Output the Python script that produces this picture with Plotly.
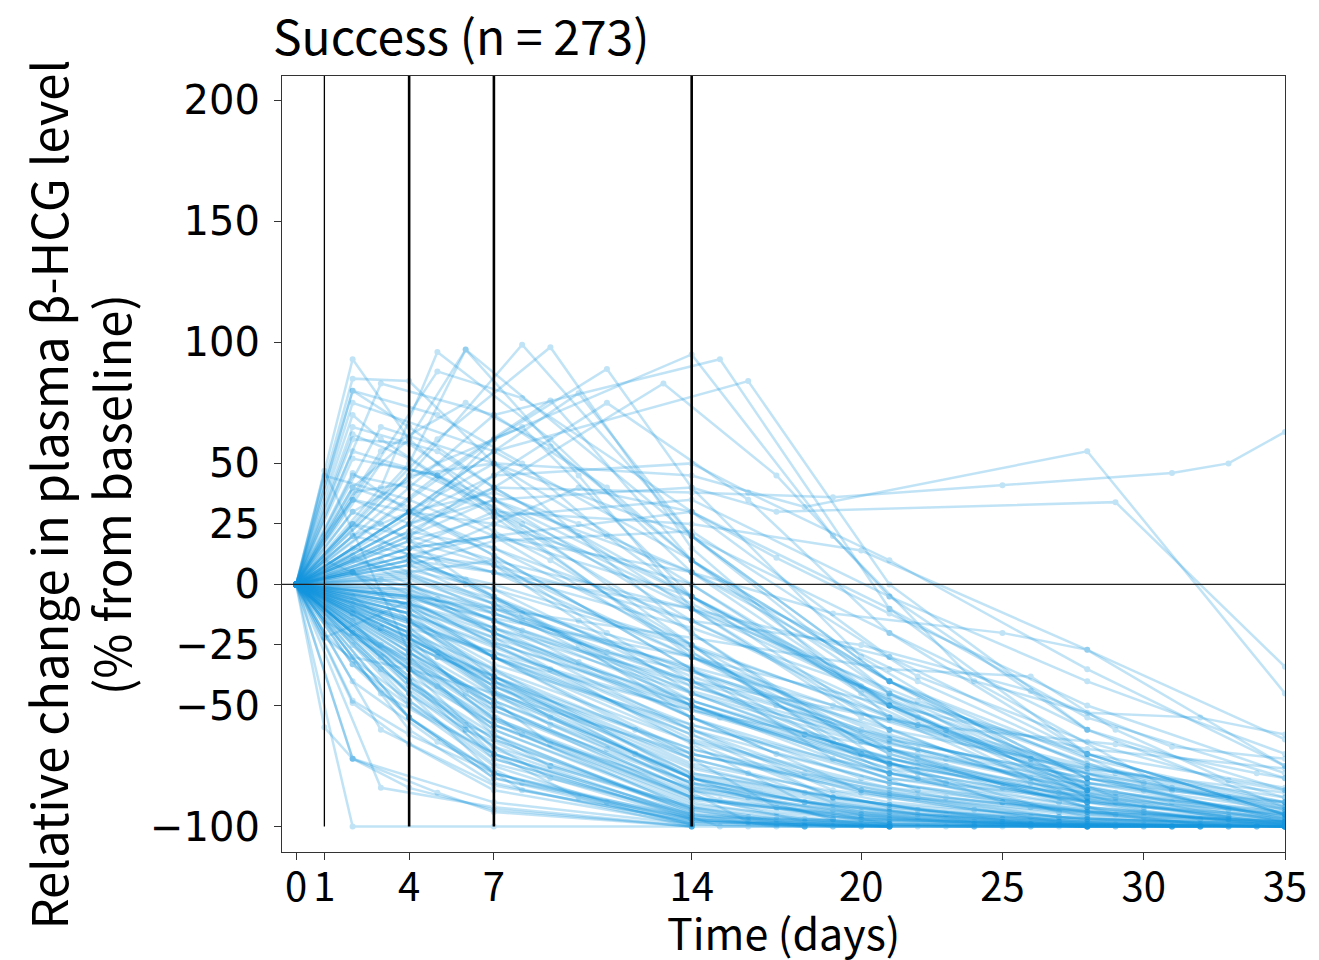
import plotly.graph_objects as go

# ---------------- data ----------------
title_text = "Success (n = 273)"
x_ticks = [0, 1, 4, 7, 14, 20, 25, 30, 35]
y_ticks = [200, 150, 100, 50, 25, 0, -25, -50, -100]
y_tick_labels = ["200", "150", "100", "50", "25", "0", "\u221225", "\u221250", "\u2212100"]
ref_days = [1, 4, 7, 14]

# each patient: days of measurement and relative change (%) from baseline
patient_days = [
    # fast decliners
    [0, 4, 7, 14, 21], [0, 4, 7, 14], [0, 1, 4, 7, 14, 21], [0, 4, 7, 10, 14],
    [0, 2, 4, 7, 14, 28], [0, 1, 2, 4, 7, 14], [0, 2, 7, 14], [0, 3, 6, 9, 14],
    [0, 4, 7, 14, 21, 28], [0, 2, 5, 8, 14, 20], [0, 4, 7, 11, 14, 18], [0, 1, 4, 7, 14],
    [0, 3, 7, 14, 21], [0, 2, 4, 7, 14], [0, 2, 5, 7, 14], [0, 3, 7, 14],
    [0, 4, 7, 9, 14, 21], [0, 5, 7, 14, 21], [0, 4, 6, 8, 14], [0, 4, 7, 14, 18, 25],
    [0, 1, 4, 7, 14, 21], [0, 2, 4, 7, 14], [0, 4, 7, 14, 21, 28], [0, 3, 4, 7, 14],
    [0, 4, 8, 14, 21], [0, 2, 7, 14, 21], [0, 4, 7, 12, 14, 21], [0, 4, 7, 14, 21, 28, 35],
    [0, 1, 4, 7, 14, 21], [0, 4, 7, 14, 17, 21],
    # slow decliners
    [0, 4, 7, 14, 21, 28, 35], [0, 4, 7, 14, 21, 28, 35], [0, 3, 7, 14, 20, 28, 35],
    [0, 4, 7, 10, 14, 21, 28], [0, 4, 7, 14, 18, 25, 32], [0, 2, 4, 7, 14, 21, 35],
    [0, 4, 7, 14, 21, 28, 35], [0, 4, 7, 9, 14, 21, 28, 35], [0, 1, 4, 7, 14, 22, 29, 35],
    [0, 4, 7, 14, 21, 28, 35], [0, 4, 7, 14, 21, 28, 35], [0, 5, 8, 14, 21, 28, 35],
    [0, 4, 7, 14, 19, 26, 33], [0, 2, 4, 7, 14, 21, 28, 35], [0, 4, 7, 14, 21, 28, 35],
    [0, 4, 7, 11, 14, 21, 28, 35], [0, 3, 7, 14, 21, 28, 35], [0, 4, 7, 14, 20, 27, 35],
    [0, 4, 7, 14, 21, 26, 31, 35], [0, 4, 7, 14, 21, 28, 35], [0, 4, 7, 14, 23, 28, 35],
    [0, 1, 4, 7, 14, 21, 28, 33], [0, 4, 7, 15, 21, 28, 35], [0, 4, 7, 14, 21, 28, 35],
    [0, 2, 4, 7, 14, 22, 28, 35],
    # early rise, then decline
    [0, 2, 4, 7, 14, 21, 28, 35], [0, 3, 5, 9, 14, 21, 28], [0, 4, 6, 10, 14, 21, 28],
    [0, 4, 8, 14, 21, 28, 35], [0, 5, 9, 14, 21, 28], [0, 3, 7, 11, 14, 21, 28, 35],
    [0, 2, 4, 7, 14, 21], [0, 5, 8, 14, 21, 28, 35], [0, 4, 7, 10, 14, 21, 28],
    [0, 4, 7, 11, 14, 20, 28], [0, 4, 7, 11, 16, 21, 28, 35], [0, 4, 7, 13, 17, 21, 28, 35],
    [0, 4, 7, 14, 19, 24, 31], [0, 4, 7, 15, 21, 28, 35], [0, 4, 7, 16, 21, 28],
    [0, 2, 4, 7, 14, 21, 28], [0, 2, 7, 14, 21, 28, 35], [0, 2, 4, 7, 14, 21, 28, 35],
    [0, 2, 5, 8, 14, 21, 28], [0, 2, 4, 7, 14, 21], [0, 4, 7, 14, 21, 28, 35],
    [0, 3, 6, 9, 14, 21, 28], [0, 4, 7, 14, 18, 28, 35], [0, 4, 7, 14, 19, 25, 31, 33, 35],
    [0, 4, 7, 14, 17, 29, 35], [0, 4, 7, 14, 20, 28, 35], [0, 4, 7, 14, 21, 28, 35],
    [0, 4, 7, 10, 14, 21, 28, 35], [0, 4, 7, 14, 16, 21, 28, 35], [0, 4, 7, 14, 17, 21, 28, 35],
    [0, 4, 7, 14, 22, 28, 35], [0, 4, 7, 14, 21, 28, 35], [0, 4, 7, 14, 21, 28, 35],
    [0, 3, 7, 14, 21, 28], [0, 2, 4, 6, 14, 21, 28], [0, 5, 9, 14, 21, 28],
    [0, 2, 5, 8, 14, 21], [0, 4, 7, 14, 21, 28, 35], [0, 2, 4, 7, 14, 21, 28, 35],
    [0, 1, 4, 7, 14, 21, 28],
    # long follow-up reaching -100
    [0, 4, 7, 14, 17, 20, 24, 28, 31, 35], [0, 4, 7, 14, 16, 19, 22, 25, 29, 33],
    [0, 4, 7, 14, 18, 21, 23, 27, 30, 35], [0, 3, 7, 14, 15, 20, 26, 32],
    [0, 4, 7, 14, 21, 24, 28, 35], [0, 4, 7, 14, 17, 21, 28, 35], [0, 2, 4, 7, 14, 21, 28, 35],
    [0, 4, 7, 14, 20, 25, 30, 35], [0, 4, 7, 9, 14, 16, 21, 28], [0, 4, 7, 14, 19, 21, 28, 35],
    [0, 1, 4, 7, 14, 22, 28, 35], [0, 4, 7, 14, 21, 28, 35], [0, 4, 7, 14, 18, 23, 28, 35],
    [0, 4, 7, 14, 21, 27, 35], [0, 4, 7, 14, 21, 28, 35], [0, 2, 4, 7, 14, 21, 28],
    [0, 4, 7, 14, 16, 18, 21, 28, 35], [0, 4, 7, 14, 21, 28, 33, 35], [0, 3, 7, 14, 21, 28, 35],
    [0, 4, 7, 14, 20, 28, 35], [0, 4, 7, 12, 14, 21, 28, 35], [0, 4, 7, 14, 21, 28, 35],
    [0, 2, 5, 7, 14, 21, 28, 35], [0, 4, 7, 14, 21, 28, 35], [0, 4, 7, 14, 21, 28, 35],
    # late, slowly declining
    [0, 4, 7, 14, 21, 28, 32, 35], [0, 4, 7, 14, 21, 26, 29, 33, 35], [0, 4, 7, 14, 20, 26, 31, 35],
    [0, 4, 7, 14, 19, 25, 28, 35], [0, 4, 7, 14, 22, 29, 34, 35], [0, 4, 7, 14, 21, 28, 35],
    # frequently sampled early
    [0, 2, 3, 4, 5, 6, 7, 14, 22], [0, 2, 4, 6, 8, 10, 14, 20, 27], [0, 2, 3, 5, 7, 9, 11, 14, 19],
    [0, 1, 2, 4, 7, 10, 14, 23], [0, 2, 4, 7, 9, 14, 17, 22, 29], [0, 2, 5, 7, 10, 14, 20, 26, 33],
    [0, 2, 4, 7, 14, 16, 19, 24, 31], [0, 3, 4, 7, 8, 14, 22], [0, 2, 4, 7, 11, 14, 18, 22, 30],
    [0, 2, 3, 7, 14, 20, 27], [0, 2, 4, 7, 14, 22, 29, 35], [0, 2, 4, 6, 9, 14, 18],
    [0, 2, 4, 7, 14, 17], [0, 1, 2, 4, 7, 14, 19, 26], [0, 2, 4, 7, 14, 20, 26, 33],
    [0, 2, 5, 8, 11, 14, 23], [0, 2, 4, 7, 10, 14, 22, 30], [0, 3, 7, 14, 19, 25, 31],
    [0, 2, 4, 7, 14, 18, 24], [0, 2, 4, 7, 14, 19], [0, 4, 7, 14, 16, 23, 30],
    [0, 4, 7, 14, 17, 24, 32], [0, 4, 7, 14, 15, 22, 29], [0, 4, 7, 14, 18],
    [0, 4, 7, 14, 16, 20], [0, 3, 7, 14, 19, 26], [0, 4, 7, 14, 20, 27, 34],
    [0, 4, 7, 14, 22, 29, 35], [0, 2, 4, 7, 14, 19, 25, 32], [0, 4, 7, 14, 18, 21, 25, 28, 35],
    [0, 4, 7, 9, 14, 20, 26, 33], [0, 4, 7, 14, 18, 24, 31], [0, 2, 4, 7, 14, 20, 27, 34],
    [0, 4, 7, 14, 22, 30, 35], [0, 4, 7, 14, 20, 26, 33], [0, 2, 4, 7, 14, 19, 25, 32],
    [0, 3, 5, 7, 14, 22, 29], [0, 4, 7, 14, 23, 30, 35], [0, 4, 7, 14, 19, 26, 32],
    [0, 2, 4, 7, 14, 20, 27, 34], [0, 4, 7, 14, 17, 21, 28, 35], [0, 4, 7, 14, 22, 29, 35],
    [0, 2, 4, 7, 14, 20, 27], [0, 2, 4, 7, 14, 22, 30, 35], [0, 4, 7, 14, 18, 25, 31],
    [0, 5, 7, 14, 20, 26, 32], [0, 4, 6, 14, 19, 27], [0, 4, 7, 14, 23, 31, 35],
    [0, 2, 4, 7, 14, 19, 26, 33], [0, 4, 7, 14, 17, 24, 30],
]

patient_values = [
    # fast decliners
    [0, -45, -78, -98, -100], [0, -30, -62, -95], [0, -20, -55, -80, -97, -100], [0, -38, -70, -88, -99],
    [0, -15, -40, -72, -96, -100], [0, -59, -72, -84, -93, -100], [0, -100, -100, -100], [0, -35, -60, -80, -97],
    [0, -25, -52, -85, -97, -100], [0, -40, -65, -82, -96, -100], [0, -50, -75, -90, -97, -100], [0, -10, -35, -68, -96],
    [0, -60, -83, -98, -100], [0, -49, -66, -85, -99], [0, -72, -86, -94, -100], [0, -84, -92, -100],
    [0, -28, -48, -66, -88, -99], [0, -42, -60, -91, -100], [0, -22, -45, -62, -93], [0, -33, -58, -90, -97, -100],
    [0, -22, -48, -74, -95, -100], [0, -33, -55, -80, -99], [0, -18, -44, -80, -94, -100], [0, -30, -42, -64, -94],
    [0, -55, -85, -98, -100], [0, -72, -90, -99, -100], [0, -12, -38, -70, -83, -99], [0, -8, -30, -72, -92, -99, -100],
    [0, 47, -28, -56, -88, -98], [0, -40, -67, -92, -97, -100],
    # slow decliners
    [0, -5, -15, -42, -68, -85, -95], [0, -10, -22, -48, -72, -88, -97], [0, 2, -10, -35, -60, -82, -93],
    [0, -8, -20, -32, -50, -78, -96], [0, -2, -18, -45, -62, -84, -97], [0, 5, -4, -20, -55, -80, -98],
    [0, 8, 0, -25, -55, -75, -90], [0, -12, -26, -35, -58, -80, -92, -99], [0, -3, -14, -30, -52, -70, -86, -94],
    [0, 12, -5, -38, -65, -86, -98], [0, -15, -30, -60, -82, -93, -99], [0, -6, -19, -44, -66, -82, -90],
    [0, 3, -8, -30, -50, -74, -88], [0, 10, 4, -12, -40, -64, -80, -92], [0, -20, -35, -65, -85, -95, -100],
    [0, -4, -12, -28, -36, -60, -76, -88], [0, 15, 5, -18, -46, -70, -84], [0, -25, -40, -68, -86, -96, -100],
    [0, 0, -12, -34, -56, -72, -84, -90], [0, -18, -28, -52, -76, -90, -97], [0, 6, -2, -26, -62, -76, -86],
    [0, -22, -7, -24, -50, -74, -89, -96], [0, -9, -24, -55, -74, -88, -95], [0, -14, -33, -58, -78, -92, -98],
    [0, -30, -35, -45, -70, -88, -96, -100],
    # early rise, then decline
    [0, 93, 60, 30, -30, -70, -92, -100], [0, 40, 96, 60, 5, -50, -85], [0, 50, 97, 45, -10, -60, -90],
    [0, 45, 99, 20, -40, -80, -98], [0, 60, 98, 15, -55, -90], [0, 83, 70, 40, 10, -45, -80, -97],
    [0, 85, 84, 50, -20, -75], [0, 88, 77, 30, -30, -70, -95], [0, 30, 55, 79, 20, -45, -88],
    [0, 25, 60, 89, 40, -30, -85], [0, 20, 45, 75, 35, -20, -70, -95], [0, 22, 40, 83, 45, -5, -60, -92],
    [0, 35, 60, 95, 20, -40, -85], [0, 40, 70, 93, -10, -70, -95], [0, 30, 55, 84, 0, -60],
    [0, 80, 65, 40, -5, -50, -82], [0, 75, 55, 10, -40, -75, -93], [0, 60, 58, 35, -15, -55, -82, -96],
    [0, 52, 45, 25, -25, -68, -90], [0, 46, 30, 12, -35, -78], [0, 45, 50, 20, -20, -60, -85],
    [0, 55, 75, 57, 10, -40, -80], [0, 30, 50, 45, 32, 55, -45], [0, 25, 40, 38, 36, 41, 46, 50, 63],
    [0, 20, 35, 40, 30, 34, -34], [0, 15, 30, 25, 14, -27, -75], [0, 18, 28, 35, -5, -40, -70],
    [0, 10, 25, 40, 30, -10, -55, -80], [0, 28, 45, 50, 38, 10, -35, -75], [0, 12, 20, 30, 11, -12, -50, -78],
    [0, 8, 18, 22, -38, -65, -88], [0, 25, 35, 5, -40, -72, -90], [0, 15, 20, -5, -45, -74, -92],
    [0, 65, 50, 0, -50, -85], [0, 40, 60, 97, 20, -40, -85], [0, 45, 76, 10, -50, -88],
    [0, 30, 50, 65, -5, -60], [0, 5, 10, -10, -48, -78, -93], [0, 20, 15, 5, -30, -62, -84, -96],
    [0, 45, 35, 20, -28, -70, -92],
    # long follow-up reaching -100
    [0, -30, -55, -88, -94, -97, -99, -100, -100, -100], [0, -20, -45, -80, -88, -93, -96, -98, -100, -100],
    [0, -15, -40, -75, -86, -91, -95, -98, -99, -100], [0, -25, -50, -85, -89, -96, -99, -100],
    [0, -10, -30, -70, -88, -93, -97, -99], [0, -35, -60, -92, -96, -99, -100, -100], [0, -8, -20, -40, -78, -92, -98, -100],
    [0, -5, -18, -55, -80, -90, -96, -98], [0, -40, -62, -75, -93, -96, -99, -100], [0, -22, -42, -76, -88, -91, -97, -99],
    [0, -15, -35, -58, -84, -95, -98, -100], [0, -28, -48, -82, -95, -99, -100], [0, -12, -30, -62, -78, -88, -94, -98],
    [0, 0, -15, -48, -74, -86, -95], [0, -3, -20, -50, -78, -90, -96], [0, -20, -32, -52, -82, -96, -100],
    [0, -45, -70, -95, -97, -98, -99, -100, -100], [0, -6, -25, -64, -84, -93, -97, -98], [0, -18, -38, -74, -90, -97, -99],
    [0, 2, -10, -40, -70, -86, -94], [0, -16, -36, -60, -70, -87, -95, -99], [0, -26, -46, -79, -93, -98, -100],
    [0, -12, -30, -38, -68, -86, -94, -98], [0, -38, -58, -89, -97, -100, -100], [0, 4, -6, -36, -64, -80, -91],
    # late, slowly declining
    [0, 10, 5, -10, -30, -53, -55, -62], [0, -5, -10, -22, -35, -38, -60, -81, -85], [0, 12, 8, -15, -25, -44, -67, -72],
    [0, 15, 20, 5, -12, -20, -27, -64], [0, -8, -18, -40, -58, -66, -78, -80], [0, -6, -14, -30, -50, -68, -76],
    # frequently sampled early
    [0, 30, 25, 18, 10, 2, -5, -50, -85], [0, 15, 10, 0, -12, -25, -55, -85, -98], [0, -10, -18, -30, -45, -58, -68, -82, -97],
    [0, 20, 35, 25, 8, -15, -45, -82], [0, 45, 40, 22, 10, -25, -50, -72, -95], [0, 65, 55, 40, 20, -10, -55, -82, -97],
    [0, -5, -22, -42, -72, -78, -90, -98, -100], [0, 10, 5, -8, -15, -50, -80], [0, 25, 20, 10, -20, -40, -62, -75, -93],
    [0, 70, 60, 30, -20, -65, -90], [0, 38, 42, 30, -10, -48, -78, -95], [0, -25, -45, -60, -75, -92, -100],
    [0, -33, -50, -70, -95, -100], [0, 10, 5, -10, -30, -65, -88, -99], [0, 55, 48, 32, -8, -42, -72, -93],
    [0, 80, 70, 50, 20, -5, -60], [0, 20, 30, 38, 25, 5, -40, -82], [0, -12, -28, -62, -88, -97, -100],
    [0, -48, -62, -78, -97, -100, -100], [0, 5, -15, -35, -80, -97], [0, -32, -55, -86, -98, -100, -100],
    [0, -40, -64, -93, -99, -100, -100], [0, -48, -72, -96, -100, -100, -100], [0, -55, -78, -99, -100],
    [0, -60, -82, -100, -100, -100], [0, -45, -70, -97, -100, -100], [0, -26, -50, -88, -97, -99, -100],
    [0, -15, -38, -78, -93, -99, -100], [0, -12, -28, -50, -85, -96, -99, -100], [0, -20, -42, -80, -90, -94, -97, -99, -100],
    [0, -18, -40, -55, -84, -95, -99, -100], [0, -35, -56, -87, -98, -100, -100], [0, 12, 0, -20, -60, -85, -96, -100],
    [0, 22, 15, -15, -58, -85, -97], [0, 30, 25, 0, -45, -80, -96], [0, 35, 30, 15, -25, -65, -90, -99],
    [0, 50, 45, 35, -5, -55, -88], [0, 8, -8, -45, -75, -92, -99], [0, -12, -25, -60, -85, -96, -100],
    [0, -20, -30, -48, -80, -94, -99, -100], [0, -2, -15, -55, -70, -82, -94, -99], [0, 18, 8, -30, -68, -90, -99],
    [0, 62, 52, 28, -28, -70, -94], [0, 25, 12, -5, -48, -78, -94, -100], [0, -8, -22, -66, -90, -98, -100],
    [0, -28, -44, -80, -95, -100, -100], [0, -42, -58, -94, -100, -100], [0, 10, -2, -42, -72, -90, -98],
    [0, 40, 32, 12, -35, -72, -92, -100], [0, -22, -38, -72, -92, -99, -100],
]

assert len(patient_days) == len(patient_values)
assert all(len(d) == len(v) for d, v in zip(patient_days, patient_values))

# ---------------- figure ----------------
LINE_COLOR = "rgb(20,150,222)"
fig = go.Figure()
for d, v in zip(patient_days, patient_values):
    fig.add_trace(go.Scatter(
        x=d, y=v, mode="lines+markers",
        line=dict(color=LINE_COLOR, width=2.5),
        marker=dict(color=LINE_COLOR, size=6),
        opacity=0.26, showlegend=False, hoverinfo="skip",
    ))

X_RANGE = [-0.5, 35]
Y_RANGE = [-110.5, 210]

shapes = []
for rd in ref_days:
    shapes.append(dict(type="line", xref="x", yref="y", x0=rd, x1=rd, y0=-100, y1=Y_RANGE[1],
                       line=dict(color="black", width=1.3 if rd == 1 else 2.6), layer="above"))
shapes.append(dict(type="line", xref="paper", yref="y", x0=0, x1=1, y0=0, y1=0,
                   line=dict(color="#222", width=1.3), layer="above"))

CJK = "Noto Sans CJK JP"
fig.update_layout(
    width=1319, height=960,
    margin=dict(l=282, r=31, t=76, b=108),
    plot_bgcolor="white", paper_bgcolor="white",
    shapes=shapes,
    title=dict(text=title_text, x=273 / 1319, xanchor="left", y=1 - 38 / 960, yanchor="middle",
               font=dict(family=CJK, size=48, color="black")),
    xaxis=dict(range=X_RANGE, tickmode="array", tickvals=x_ticks, ticktext=[str(t) for t in x_ticks],
               showgrid=False, zeroline=False, showline=True, linecolor="#333", linewidth=1.3, mirror=True,
               ticks="outside", ticklen=7, tickcolor="#333", tickwidth=1.3, ticklabelstandoff=-7,
               tickfont=dict(family=CJK, size=40, color="black")),
    yaxis=dict(range=Y_RANGE, tickmode="array", tickvals=y_ticks, ticktext=y_tick_labels,
               showgrid=False, zeroline=False, showline=True, linecolor="#333", linewidth=1.3, mirror=True,
               ticks="outside", ticklen=7, tickcolor="#333", tickwidth=1.3, ticklabelstandoff=6,
               tickfont=dict(family="DejaVu Sans", size=40, color="black")),
    annotations=[
        dict(text="Time (days)", xref="paper", yref="paper", x=0.5, y=(852 - 931) / 776,
             xanchor="center", yanchor="middle", showarrow=False,
             font=dict(family=CJK, size=43, color="black")),
        dict(text="Relative change in plasma \u03b2-HCG level<br>(% from baseline)",
             xref="paper", yref="paper", x=(77 - 282) / 1006, y=(852 - 495) / 776,
             xanchor="center", yanchor="middle", showarrow=False, textangle=-90,
             font=dict(family=CJK, size=49, color="black")),
    ],
)

fig.write_html("out.html")
